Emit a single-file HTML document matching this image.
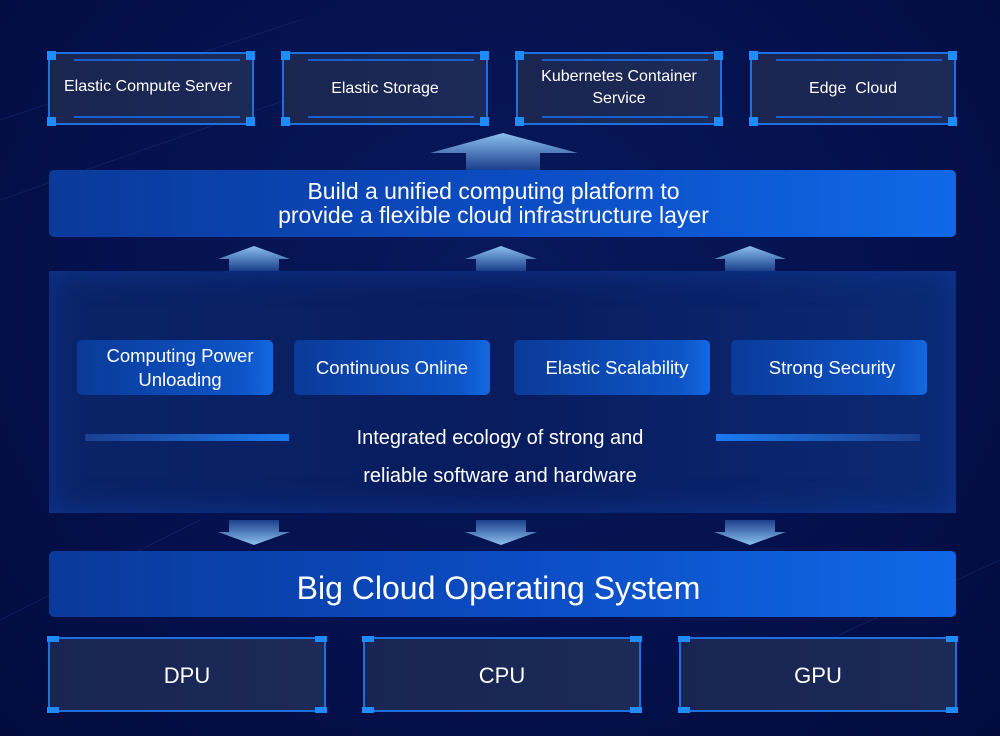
<!DOCTYPE html>
<html><head><meta charset="utf-8"><style>
*{margin:0;padding:0;box-sizing:border-box}
body{width:1000px;height:736px;overflow:hidden;background:#030c40;font-family:"Liberation Sans",sans-serif;color:#fff;position:relative}
.bg{position:absolute;inset:0;background:radial-gradient(ellipse at 50% 40%,#08195c 0%,#04114e 55%,#020b3c 100%)}
.abs{position:absolute}
.tb{position:absolute;background:linear-gradient(90deg,#1a2550,#1c2a58);border:2px solid #1e6fe0;display:flex;align-items:center;justify-content:center;text-align:center;font-size:16px;line-height:22px}
.tb .c{position:absolute;width:9px;height:9px;background:#1e8cff}
.tb .l{position:absolute;left:12%;right:6%;height:2px;background:#1a5fd0}
.band{position:absolute;left:49px;width:907px;border-radius:5px;background:linear-gradient(90deg,#0a3a9a 0%,#0b4bc2 50%,#1068e6 100%);display:flex;align-items:center;justify-content:center;text-align:center}
.sb{position:absolute;top:340px;width:196px;height:55px;border-radius:5px;background:linear-gradient(90deg,#0a3a98,#0d55c8 85%,#1468e0);display:flex;align-items:center;justify-content:center;text-align:center;font-size:18.5px;line-height:24px}
.bb{position:absolute;top:637px;width:278px;height:75px;background:linear-gradient(90deg,#182553,#1c2a58);border:2px solid #1e6fe0;display:flex;align-items:center;justify-content:center;font-size:22px;padding-top:3px}
.bb .c{position:absolute;width:12px;height:6px;background:#1e8cff}
</style></head><body>
<div class="bg"></div>
<svg class="abs" style="left:0;top:0" width="1000" height="736">
<defs>
<linearGradient id="au" x1="0" y1="0" x2="0" y2="1"><stop offset="0" stop-color="#8cc0ee"/><stop offset="1" stop-color="#1b3f8c"/></linearGradient>
<linearGradient id="ad" x1="0" y1="0" x2="0" y2="1"><stop offset="0" stop-color="#1b3f8c"/><stop offset="1" stop-color="#8cc0ee"/></linearGradient>
</defs>
<g stroke="#1a2e78" stroke-width="1" opacity="0.5" fill="none">
<line x1="0" y1="120" x2="300" y2="20"/><line x1="0" y1="200" x2="400" y2="60"/><line x1="700" y1="700" x2="1000" y2="560"/><line x1="0" y1="620" x2="200" y2="520"/>
</g>
<polygon points="503,133 578,153 540,153 540,170 466,170 466,153 430,153" fill="url(#au)"/>
<polygon points="254,246 290,259 279,259 279,271 229,271 229,259 218,259" fill="url(#au)"/>
<polygon points="501,246 537,259 526,259 526,271 476,271 476,259 465,259" fill="url(#au)"/>
<polygon points="750,246 786,259 775,259 775,271 725,271 725,259 714,259" fill="url(#au)"/>
<polygon points="254,545 290,532 279,532 279,520 229,520 229,532 218,532" fill="url(#ad)"/>
<polygon points="501,545 537,532 526,532 526,520 476,520 476,532 465,532" fill="url(#ad)"/>
<polygon points="750,545 786,532 775,532 775,520 725,520 725,532 714,532" fill="url(#ad)"/>
</svg>

<div class="tb" style="left:48px;top:52px;width:206px;height:73px"><span style="margin-top:-4px;margin-right:6px">Elastic Compute Server</span><i class="l" style="top:5px"></i><i class="l" style="bottom:5px"></i><i class="c" style="left:-3px;top:-3px"></i><i class="c" style="right:-3px;top:-3px"></i><i class="c" style="left:-3px;bottom:-3px"></i><i class="c" style="right:-3px;bottom:-3px"></i></div>
<div class="tb" style="left:282px;top:52px;width:206px;height:73px"><span>Elastic Storage</span><i class="l" style="top:5px"></i><i class="l" style="bottom:5px"></i><i class="c" style="left:-3px;top:-3px"></i><i class="c" style="right:-3px;top:-3px"></i><i class="c" style="left:-3px;bottom:-3px"></i><i class="c" style="right:-3px;bottom:-3px"></i></div>
<div class="tb" style="left:516px;top:52px;width:206px;height:73px"><span style="margin-top:-2px">Kubernetes Container<br>Service</span><i class="l" style="top:5px"></i><i class="l" style="bottom:5px"></i><i class="c" style="left:-3px;top:-3px"></i><i class="c" style="right:-3px;top:-3px"></i><i class="c" style="left:-3px;bottom:-3px"></i><i class="c" style="right:-3px;bottom:-3px"></i></div>
<div class="tb" style="left:750px;top:52px;width:206px;height:73px"><span>Edge&nbsp; Cloud</span><i class="l" style="top:5px"></i><i class="l" style="bottom:5px"></i><i class="c" style="left:-3px;top:-3px"></i><i class="c" style="right:-3px;top:-3px"></i><i class="c" style="left:-3px;bottom:-3px"></i><i class="c" style="right:-3px;bottom:-3px"></i></div>

<div class="band" style="top:170px;height:67px;font-size:23px;line-height:24px;padding-right:18px;padding-bottom:2px">Build a unified computing platform to<br>provide a flexible cloud infrastructure layer</div>

<div class="abs" style="left:49px;top:271px;width:907px;height:242px;background:linear-gradient(90deg,#0a2468 0%,#081c5e 50%,#0b2a75 100%);box-shadow:inset 0 0 30px #0e3590"></div>
<div class="sb" style="left:77px;padding-left:10px">Computing Power<br>Unloading</div>
<div class="sb" style="left:294px">Continuous Online</div>
<div class="sb" style="left:514px;padding-left:10px">Elastic Scalability</div>
<div class="sb" style="left:731px;padding-left:6px">Strong Security</div>
<div class="abs" style="left:85px;top:434px;width:204px;height:7px;background:linear-gradient(90deg,#1b3f90,#1a7af0)"></div>
<div class="abs" style="left:716px;top:434px;width:204px;height:7px;background:linear-gradient(90deg,#1a7af0,#1b3f90)"></div>
<div class="abs" style="left:290px;top:419px;width:420px;text-align:center;font-size:20px;line-height:38px">Integrated ecology of strong and<br>reliable software and hardware</div>

<div class="band" style="top:551px;height:66px;font-size:32px;padding-top:8px;padding-right:8px">Big Cloud Operating System</div>

<div class="bb" style="left:48px">DPU<i class="c" style="left:-3px;top:-3px"></i><i class="c" style="right:-3px;top:-3px"></i><i class="c" style="left:-3px;bottom:-3px"></i><i class="c" style="right:-3px;bottom:-3px"></i></div>
<div class="bb" style="left:363px">CPU<i class="c" style="left:-3px;top:-3px"></i><i class="c" style="right:-3px;top:-3px"></i><i class="c" style="left:-3px;bottom:-3px"></i><i class="c" style="right:-3px;bottom:-3px"></i></div>
<div class="bb" style="left:679px">GPU<i class="c" style="left:-3px;top:-3px"></i><i class="c" style="right:-3px;top:-3px"></i><i class="c" style="left:-3px;bottom:-3px"></i><i class="c" style="right:-3px;bottom:-3px"></i></div>
</body></html>
